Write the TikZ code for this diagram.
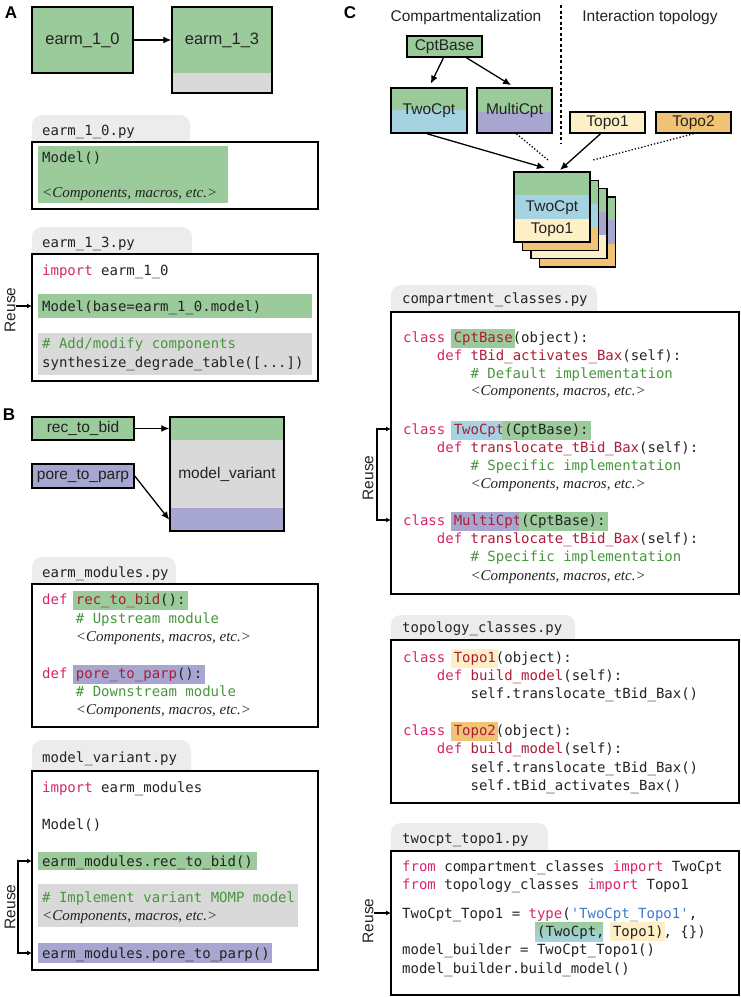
\documentclass[tikz,border=0pt]{standalone}
\usepackage{fontspec}
\setsansfont{Liberation Sans}
\setmonofont{DejaVu Sans Mono}
\newfontfamily\etcfont{Liberation Serif}
\usetikzlibrary{arrows.meta,positioning}

\definecolor{grn}{RGB}{155,203,155}
\definecolor{gry}{RGB}{217,217,217}
\definecolor{tabgry}{RGB}{236,236,236}
\definecolor{blu}{RGB}{165,211,226}
\definecolor{pur}{RGB}{166,166,208}
\definecolor{yel}{RGB}{253,240,198}
\definecolor{org}{RGB}{240,196,116}
\definecolor{kwc}{RGB}{214,38,110}
\definecolor{fnc}{RGB}{172,28,56}
\definecolor{cmc}{RGB}{72,150,62}
\definecolor{strc}{RGB}{62,122,204}
\definecolor{txt}{RGB}{35,35,35}

\newcommand{\kw}[1]{\textcolor{kwc}{#1}}
\newcommand{\fn}[1]{\textcolor{fnc}{#1}}
\newcommand{\hlt}[2]{\hspace{-2.5pt}{\setlength{\fboxsep}{0pt}\colorbox{#1}{\rule[-6pt]{0pt}{19pt}\hspace{2.5pt}#2\hspace{2.5pt}}}\hspace{-2.5pt}}
\newcommand{\cmpetc}{<Components, macros, etc.>}

\tikzset{
  blk/.style={draw=black, line width=1.5pt},
  lbl/.style={font=\sffamily\fontsize{15.5}{18}\selectfont, text=txt, inner sep=0pt},
  panel/.style={font=\sffamily\bfseries\fontsize{17}{20}\selectfont, inner sep=0pt},
  code/.style={font=\ttfamily\fontsize{14}{17}\selectfont, text=txt, anchor=base west, inner sep=0pt},
  cmt/.style={code, text=cmc},
  etcline/.style={font=\etcfont\itshape\fontsize{15}{17}\selectfont, text=txt, anchor=base west, inner sep=0pt},
  tabshape/.style={fill=tabgry, rounded corners=10pt},
  codebox/.style={blk, fill=white},
  arr/.style={-{Latex[length=8pt,width=7pt]}, line width=1.3pt},
  sarr/.style={-{Latex[length=5pt,width=5pt]}, line width=1.2pt},
  reuse/.style={{Latex[length=5pt,width=5pt]}-{Latex[length=5pt,width=5pt]}, line width=1.2pt},
  dotline/.style={dotted, line width=1.3pt},
}

\begin{document}
\begin{tikzpicture}[x=1pt, y=-1pt]
    \useasboundingbox (0,0) rectangle (741,997);

    % Panel A: earm_1_0 -> earm_1_3
    \node[panel] (pA) at (11,13) {A};
    \node[blk, lbl, fill=grn, font=\sffamily\fontsize{16.5}{18}\selectfont, minimum width=101pt, minimum height=66pt] (e10) at (82.5,40) {earm\_1\_0};
    \node[blk, fill=grn, minimum width=100pt, minimum height=86pt,
        path picture={\fill[gry] (path picture bounding box.south west) rectangle ([yshift=20pt]path picture bounding box.south east);}] (e13) at (222,50) {};
    \node[lbl, font=\sffamily\fontsize{16.5}{18}\selectfont] (e13t) at (222,40) {earm\_1\_3};
    \draw[arr] (e10) -- (e10 -| e13.west);

    \fill[tabshape] (32,115) rectangle (190,152);
    \node[code] (f10) at (42,135) {earm\_1\_0.py};
    \draw[codebox] (32,142) rectangle (318,209);
    \fill[grn] (38,146) rectangle (228,203);
    \node[code] (a1) at (42,162) {Model()};
    \node[etcline] (a2) at (42,197) {\cmpetc};

    \fill[tabshape] (32,227) rectangle (192,264);
    \node[code] (f13) at (42,247) {earm\_1\_3.py};
    \draw[codebox] (32,254) rectangle (318,381);
    \node[code] (b1) at (42,275) {\kw{import} earm\_1\_0};
    \fill[grn] (38,294) rectangle (312,318);
    \node[code] (b2) at (42,311) {Model(base=earm\_1\_0.model)};
    \fill[gry] (38,333) rectangle (312,375);
    \node[cmt] (b3) at (42,348) {\# Add/modify components};
    \node[code] (b4) at (42,367) {synthesize\_degrade\_table([...])};

    \node[lbl, rotate=90] (reA) at (10,310) {Reuse};
    \coordinate (inA) at (32,306);
    \draw[sarr] (reA.south |- inA) -- (inA);

    % Panel B: modules
    \node[panel] (pB) at (9,415) {B};
    \node[blk, lbl, fill=grn, minimum width=102pt, minimum height=23pt] (rtb) at (83,428.5) {rec\_to\_bid};
    \node[blk, lbl, fill=pur, minimum width=102pt, minimum height=24pt] (ptp) at (83,476) {pore\_to\_parp};
    \node[blk, lbl, fill=gry, minimum width=114pt, minimum height=114pt,
        path picture={\fill[grn] (path picture bounding box.north west) rectangle ([yshift=-23pt]path picture bounding box.north east);
                      \fill[pur] (path picture bounding box.south west) rectangle ([yshift=23pt]path picture bounding box.south east);}] (mv) at (227,474) {model\_variant};
    \draw[arr] (rtb) -- (rtb -| mv.west);
    \coordinate (inB) at ([yshift=12pt]mv.south west);
    \draw[arr] (ptp.east) -- (inB);

    \fill[tabshape] (32,557) rectangle (176,594);
    \node[code] (fem) at (42,577) {earm\_modules.py};
    \draw[codebox] (32,584) rectangle (318,727);
    \node[code] (c1) at (42,604) {\kw{def} \hlt{grn}{\fn{rec\_to\_bid}():}};
    \node[cmt] (c2) at (75.7,623) {\# Upstream module};
    \node[etcline] (c3) at (75.7,641) {\cmpetc};
    \node[code] (c4) at (42,678) {\kw{def} \hlt{pur}{\fn{pore\_to\_parp}():}};
    \node[cmt] (c5) at (75.7,696) {\# Downstream module};
    \node[etcline] (c6) at (75.7,714) {\cmpetc};

    \fill[tabshape] (32,740) rectangle (191,780);
    \node[code] (fmv) at (42,762) {model\_variant.py};
    \draw[codebox] (32,771) rectangle (318,970);
    \node[code] (d1) at (42,792) {\kw{import} earm\_modules};
    \node[code] (d2) at (42,829) {Model()};
    \fill[grn] (38,852) rectangle (257,870);
    \node[code] (d3) at (42,866) {earm\_modules.rec\_to\_bid()};
    \fill[gry] (38,884) rectangle (298,927);
    \node[cmt] (d4) at (42,902) {\# Implement variant MOMP model};
    \node[etcline] (d5) at (42,920) {\cmpetc};
    \fill[pur] (38,943) rectangle (272,963);
    \node[code] (d6) at (42,958) {earm\_modules.pore\_to\_parp()};

    \node[lbl, rotate=90] (reB) at (10,907) {Reuse};
    \coordinate (inB1) at (32,861);
    \coordinate (inB2) at (32,953);
    \draw[reuse] (inB1) -- ++(-14,0) |- (inB2);

    % Panel C: classes
    \node[panel] (pC) at (350,13) {C};
    \node[lbl] (hcmp) at (466,17) {Compartmentalization};
    \node[lbl] (htop) at (650,17) {Interaction topology};
    \draw[line width=1.3pt, dash pattern=on 3pt off 2.5pt] (561,5) -- (561,143);

    \node[blk, lbl, fill=grn, minimum width=75pt, minimum height=21pt] (cb) at (444.5,46.5) {CptBase};
    \node[blk, lbl, fill=blu, minimum width=76pt, minimum height=45pt,
        path picture={\fill[grn] (path picture bounding box.north west) rectangle ([yshift=-22pt]path picture bounding box.north east);}] (tc) at (429,110.5) {TwoCpt};
    \node[blk, lbl, fill=pur, minimum width=75pt, minimum height=45pt,
        path picture={\fill[grn] (path picture bounding box.north west) rectangle ([yshift=-24pt]path picture bounding box.north east);}] (mc) at (514.5,110.5) {MultiCpt};
    \node[blk, lbl, fill=yel, minimum width=75pt, minimum height=21pt] (t1) at (607.5,122.5) {Topo1};
    \node[blk, lbl, fill=org, minimum width=75pt, minimum height=21pt] (t2) at (693.5,122.5) {Topo2};
    \draw[arr, shorten >=4pt] ([xshift=-1pt]cb.south) -- (tc.north);
    \draw[arr, shorten >=4pt] ([xshift=22pt]cb.south) -- (mc.north);

    % stack of combined models
    \foreach \i/\mcol/\bcol in {3/pur/org, 2/pur/yel, 1/blu/org, 0/blu/yel}
        \node[blk, fill=grn, minimum width=76pt, minimum height=70pt,
            path picture={\fill[\mcol] ([yshift=-23.3pt]path picture bounding box.north west) rectangle ([yshift=23.3pt]path picture bounding box.south east);
                          \fill[\bcol] (path picture bounding box.south west) rectangle ([yshift=23.3pt]path picture bounding box.south east);}]
            (card\i) at (552+8.5*\i, 207+8.3*\i) {};
    \node[lbl] (ctw) at (552,208) {TwoCpt};
    \node[lbl] (ctp) at (552,230) {Topo1};

    \coordinate (inC1) at (545,168);
    \coordinate (inC2) at (560,170);
    \coordinate (inC3) at (548,160);
    \coordinate (inC4) at (593,160);
    \draw[arr] ([xshift=-2pt]tc.south) -- (inC1);
    \draw[arr] ([xshift=-7pt]t1.south) -- (inC2);
    \draw[dotline] ([xshift=2pt]mc.south) -- (inC3);
    \draw[dotline] (t2.south) -- (inC4);

    \fill[tabshape] (391,285) rectangle (597,322);
    \node[code] (fcc) at (402,303) {compartment\_classes.py};
    \draw[codebox] (391,312) rectangle (739,594);
    \node[code] (g1) at (403,342) {\kw{class} \hlt{grn}{\fn{CptBase}}(object):};
    \node[code] (g2) at (436.7,360) {\kw{def} \fn{tBid\_activates\_Bax}(self):};
    \node[cmt] (g3) at (470.4,378) {\# Default implementation};
    \node[etcline] (g4) at (470.4,395) {\cmpetc};
    \node[code] (g5) at (403,434) {\kw{class} \hlt{blu}{\fn{TwoCpt}}\hlt{grn}{(CptBase):}};
    \node[code] (g6) at (436.7,452) {\kw{def} \fn{translocate\_tBid\_Bax}(self):};
    \node[cmt] (g7) at (470.4,470) {\# Specific implementation};
    \node[etcline] (g8) at (470.4,488) {\cmpetc};
    \node[code] (g9) at (403,525) {\kw{class} \hlt{pur}{\fn{MultiCpt}}\hlt{grn}{(CptBase):}};
    \node[code] (g10) at (436.7,543) {\kw{def} \fn{translocate\_tBid\_Bax}(self):};
    \node[cmt] (g11) at (470.4,561) {\# Specific implementation};
    \node[etcline] (g12) at (470.4,580) {\cmpetc};

    \node[lbl, rotate=90] (reC1) at (368,478) {Reuse};
    \coordinate (inC5) at (391,429);
    \coordinate (inC6) at (391,520);
    \draw[reuse] (inC5) -- ++(-14,0) |- (inC6);

    \fill[tabshape] (391,615) rectangle (575,650);
    \node[code] (ftc) at (402,632) {topology\_classes.py};
    \draw[codebox] (391,640) rectangle (739,803);
    \node[code] (h1) at (403,662) {\kw{class} \hlt{yel}{\fn{Topo1}}(object):};
    \node[code] (h2) at (436.7,680) {\kw{def} \fn{build\_model}(self):};
    \node[code] (h3) at (470.4,698) {self.translocate\_tBid\_Bax()};
    \node[code] (h4) at (403,735) {\kw{class} \hlt{org}{\fn{Topo2}}(object):};
    \node[code] (h5) at (436.7,753) {\kw{def} \fn{build\_model}(self):};
    \node[code] (h6) at (470.4,772) {self.translocate\_tBid\_Bax()};
    \node[code] (h7) at (470.4,790) {self.tBid\_activates\_Bax()};

    \fill[tabshape] (391,823) rectangle (548,860);
    \node[code] (ftt) at (402,843) {twocpt\_topo1.py};
    \draw[codebox] (391,851) rectangle (739,995);
    \node[code] (k1) at (402,871) {\kw{from} compartment\_classes \kw{import} TwoCpt};
    \node[code] (k2) at (402,889) {\kw{from} topology\_classes \kw{import} Topo1};
    \node[code] (k3) at (402,918) {TwoCpt\_Topo1 = \kw{type}(\textcolor{strc}{\textquotesingle TwoCpt\_Topo1\textquotesingle},};
    \shade[top color=grn, bottom color=blu] (535,922) rectangle (603,941);
    \fill[yel] (610,922) rectangle (665,941);
    \node[code] (k4) at (537,936) {(TwoCpt, Topo1), \{\})};
    \node[code] (k5) at (402,954) {model\_builder = TwoCpt\_Topo1()};
    \node[code] (k6) at (402,973) {model\_builder.build\_model()};

    \node[lbl, rotate=90] (reC2) at (368,921) {Reuse};
    \coordinate (inC7) at (391,913);
    \draw[sarr] (reC2.south |- inC7) -- (inC7);
\end{tikzpicture}
\end{document}
